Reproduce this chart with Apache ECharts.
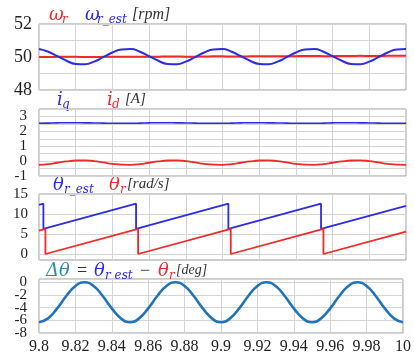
<!DOCTYPE html>
<html><head><meta charset="utf-8">
<script src="https://cdn.jsdelivr.net/npm/echarts@6/dist/echarts.min.js"></script>
<style>html,body{margin:0;padding:0;background:#fff}#c{width:414px;height:362px}</style>
</head><body><div id="c"></div>
<script>
// ---- data ----
const time = [9.8,9.805,9.81,9.815,9.82,9.825,9.83,9.835,9.84,9.845,
  9.85,9.855,9.86,9.865,9.87,9.875,9.88,9.885,9.89,9.895,
  9.9,9.905,9.91,9.915,9.92,9.925,9.93,9.935,9.94,9.945,
  9.95,9.955,9.96,9.965,9.97,9.975,9.98,9.985,9.99,9.995,10];
const omegaR = [50.00,50.00,50.01,50.01,50.01,50.00,50.00,50.01,50.02,50.02,
  50.02,50.01,50.01,50.02,50.03,50.03,50.02,50.02,50.03,50.04,
  50.04,50.03,50.03,50.04,50.05,50.05,50.04,50.04,50.05,50.06,
  50.06,50.05,50.05,50.06,50.06,50.07,50.06,50.06,50.07,50.07,50.07];
const omegaEst = [50.48,50.32,50.05,49.77,49.58,49.56,49.72,49.99,50.27,50.46,
  50.48,50.32,50.05,49.77,49.58,49.56,49.72,49.99,50.27,50.46,
  50.48,50.32,50.05,49.77,49.58,49.56,49.72,49.99,50.27,50.46,
  50.48,50.32,50.05,49.77,49.58,49.56,49.72,49.99,50.27,50.46,50.48];
const iq = [2.54,2.55,2.57,2.58,2.58,2.57,2.56,2.55,2.54,2.54,
  2.54,2.55,2.57,2.58,2.58,2.57,2.56,2.55,2.54,2.54,
  2.54,2.55,2.57,2.58,2.58,2.57,2.56,2.55,2.54,2.54,
  2.54,2.55,2.57,2.58,2.58,2.57,2.56,2.55,2.54,2.54,2.54];
const id = [-0.25,-0.20,-0.11,-0.02,0.04,0.05,0.00,-0.09,-0.18,-0.24,
  -0.25,-0.20,-0.11,-0.02,0.04,0.05,0.00,-0.09,-0.18,-0.24,
  -0.25,-0.20,-0.11,-0.02,0.04,0.05,0.00,-0.09,-0.18,-0.24,
  -0.25,-0.20,-0.11,-0.02,0.04,0.05,0.00,-0.09,-0.18,-0.24,-0.25];
const thetaEstT = [9.8,9.8024,9.8024,9.8529,9.8529,9.9032,9.9032,9.9537,9.9537,10];
const thetaEstV = [12.27,12.57,6.28,12.57,6.28,12.57,6.28,12.57,6.28,12.04];
const thetaRT = [9.8,9.8035,9.8035,9.854,9.854,9.9045,9.9045,9.955,9.955,10];
const thetaRV = [5.85,6.28,0,6.28,0,6.28,0,6.28,0,5.6];
const dTheta = [-6.3,-5.7,-4.12,-2.18,-0.6,0,-0.6,-2.18,-4.12,-5.7,
  -6.3,-5.7,-4.12,-2.18,-0.6,0,-0.6,-2.18,-4.12,-5.7,
  -6.3,-5.7,-4.12,-2.18,-0.6,0,-0.6,-2.18,-4.12,-5.7,
  -6.3,-5.7,-4.12,-2.18,-0.6,0,-0.6,-2.18,-4.12,-5.7,-6.3];
const yTicks1 = [48, 50, 52];
const yTicks2a = [1, 3], yTicks2b = [0, 2], yTicks2c = [-1];
const yTicks3 = [0, 5, 10, 15];
const yTicks4a = [-8, -4, 0], yTicks4b = [-6, -2];

// ---- styling ----
const RED = '#ee2a2a', BLUE = '#2c2ce0', DT = '#1f73b8';
const SERIF = '"Liberation Serif", serif';
const MATH = '"DejaVu Serif", serif';
const pair = (xs, ys) => xs.map((x, i) => [x, ys[i]]);

const grids = [
  {left: 39, right: 8, top: 24, height: 66},
  {left: 39, right: 8, top: 109, height: 67},
  {left: 39, right: 8, top: 194, height: 66},
  {left: 39, right: 8, top: 279, height: 54}
].map(g => Object.assign(g, {show: true, borderColor: '#9a9a9a', borderWidth: 1, backgroundColor: '#fff'}));
// helper grid sharing panel 2's scale, extended below so "-1" is not an end label
grids.push({left: 39, right: 8, top: 109, height: 82, show: false});

const xAxes = grids.map((g, i) => ({
  type: 'value', gridIndex: i, min: 9.8, max: 10, interval: 0.02, position: 'bottom', show: i < 4,
  axisLine: {show: false, onZero: false}, axisTick: {show: false},
  splitLine: {show: i < 4, lineStyle: {color: '#d4d4d4', width: 1}},
  axisLabel: {show: i === 3, fontFamily: SERIF, fontSize: 16, lineHeight: 14, color: '#222', margin: 7,
    formatter: v => String(+(+v).toFixed(2))}
}));

const lab = (size, margin, vals) => ({fontFamily: SERIF, fontSize: size, lineHeight: 11, color: '#222', margin,
  customValues: vals, showMinLabel: true, showMaxLabel: true, hideOverlap: false});
const ax = (gi, min, max, interval, labelCfg, grid) => ({
  type: 'value', gridIndex: gi, min, max, interval, position: 'left',
  axisLine: {show: false, onZero: false}, axisTick: {show: false},
  splitLine: {show: grid, lineStyle: {color: '#d4d4d4', width: 1}},
  axisLabel: labelCfg
});
const yAxes = [
  ax(0, 48, 52, 1, lab(18, 7, yTicks1), true),
  ax(1, -1, 3.5, 0.5, lab(15, 12, yTicks2a), true),
  ax(2, -1.5, 15, undefined, lab(15, 11, yTicks3), true),
  ax(3, -8, 0.5, 2, lab(15, 12, yTicks4a), true),
  ax(1, -1, 3.5, 0.5, lab(15, 12, yTicks2b), false),
  ax(3, -8, 0.5, 2, lab(15, 12, yTicks4b), false),
  ax(4, -2, 3.5, undefined, lab(15, 12, yTicks2c), false)
];
yAxes[2].axisTick.customValues = yTicks3;

const line = (i, data, color, w, smooth) => ({
  type: 'line', xAxisIndex: i, yAxisIndex: i, data, symbol: 'none', smooth: smooth,
  lineStyle: {color, width: w}, silent: true
});

const series = [
  line(0, pair(time, omegaR), RED, 2, true),
  line(0, pair(time, omegaEst), BLUE, 2, true),
  line(1, pair(time, iq), BLUE, 1.6, true),
  line(1, pair(time, id), RED, 1.8, true),
  line(2, pair(thetaEstT, thetaEstV), BLUE, 1.8, false),
  line(2, pair(thetaRT, thetaRV), RED, 1.8, false),
  line(3, pair(time, dTheta), DT, 2.6, true)
];

// titles: [text, x, y, color, fontSize, italic, font]
const titles = [
  ['ω', 49, 15, RED, 18, true, MATH], ['r', 62, 20, RED, 12, true, MATH],
  ['ω', 85, 15, BLUE, 18, true, MATH], ['r_est', 97, 20, BLUE, 12, true, MATH], ['[rpm]', 132, 15, '#333', 16, true, SERIF],
  ['i', 57, 100, BLUE, 18, true, MATH], ['q', 62, 105, BLUE, 12, true, MATH],
  ['i', 107, 100, RED, 18, true, MATH], ['d', 112, 105, RED, 12, true, MATH], ['[A]', 125, 99, '#333', 15, true, SERIF],
  ['θ', 53, 185, BLUE, 18, true, MATH], ['r_est', 64, 190, BLUE, 12, true, MATH],
  ['θ', 109, 185, RED, 18, true, MATH], ['r', 120, 190, RED, 12, true, MATH], ['[rad/s]', 127, 184, '#333', 15, true, SERIF],
  ['Δθ', 46, 271, '#2b8cb0', 18, true, MATH], ['=', 77, 271, '#333', 18, false, SERIF],
  ['θ', 94, 271, BLUE, 18, true, MATH], ['r est', 105, 276, BLUE, 12, true, MATH], ['−', 140, 271, '#333', 18, false, SERIF],
  ['θ', 158, 271, RED, 18, true, MATH], ['r', 169, 276, RED, 12, true, MATH], ['[deg]', 176, 270, '#333', 14, true, SERIF]
];
const graphic = titles.map(t => ({
  type: 'text', x: t[1], y: t[2], silent: true,
  style: {text: t[0], fill: t[3], font: (t[5] ? 'italic ' : '') + t[4] + 'px ' + t[6], verticalAlign: 'middle', textVerticalAlign: 'middle'}
}));

const chart = echarts.init(document.getElementById('c'), null, {renderer: 'canvas'});
chart.setOption({animation: false, backgroundColor: '#fff', grid: grids, xAxis: xAxes, yAxis: yAxes, series, graphic});
</script></body></html>
